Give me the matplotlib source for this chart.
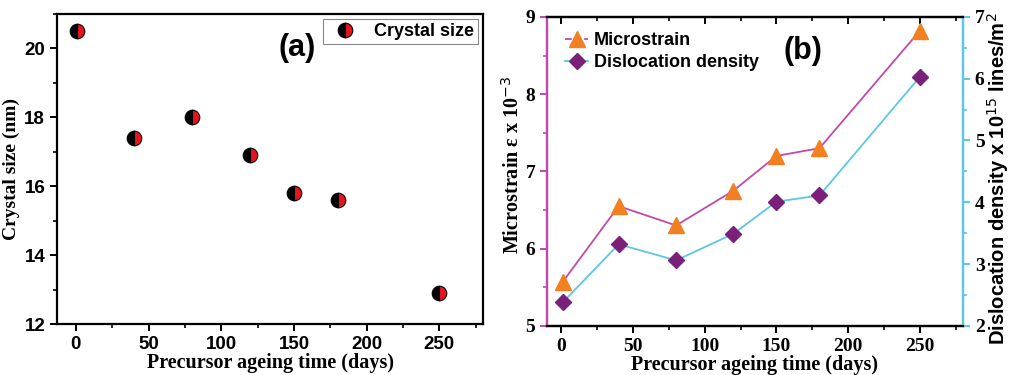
import matplotlib
matplotlib.use("Agg")
import matplotlib.pyplot as plt
from matplotlib.ticker import MultipleLocator
from matplotlib.lines import Line2D

days = [1, 40, 80, 120, 150, 180, 250]
crystal_size = [20.5, 17.4, 18.0, 16.9, 15.8, 15.6, 12.9]
microstrain = [5.57, 6.55, 6.30, 6.75, 7.20, 7.30, 8.82]
dislocation = [2.38, 3.32, 3.06, 3.49, 4.01, 4.11, 6.03]

SANS = "Liberation Sans"
SERIF = "Liberation Serif"
MAG = "#c04aa8"
CYAN = "#5cc8e0"
ORANGE = "#f28020"
PURPLE = "#7a1f7a"

fig = plt.figure(figsize=(10.12, 3.75), dpi=100)

# ---------- panel (a) ----------
ax1 = fig.add_axes([0.0563, 0.136, 0.421, 0.827])
ax1.plot(days, crystal_size, linestyle="none", marker="o", markersize=10.5,
         fillstyle="left", markerfacecolor="black", markerfacecoloralt="#e8141c",
         markeredgecolor="black", markeredgewidth=0.8, label="Crystal size")
ax1.set_xlim(-13, 280)
ax1.set_ylim(12, 21)
ax1.xaxis.set_major_locator(MultipleLocator(50))
ax1.xaxis.set_minor_locator(MultipleLocator(25))
ax1.yaxis.set_major_locator(MultipleLocator(2))
ax1.yaxis.set_minor_locator(MultipleLocator(1))
for s in ax1.spines.values():
    s.set_linewidth(1.6)
ax1.tick_params(which="major", direction="out", length=5, width=1.4, top=False, right=False)
ax1.tick_params(which="minor", direction="out", length=3, width=1.2, top=False, right=False)
for lab in ax1.get_xticklabels() + ax1.get_yticklabels():
    lab.set_fontfamily(SANS); lab.set_fontweight("bold"); lab.set_fontsize(13.5)
ax1.set_xlabel("Precursor ageing time (days)", fontfamily=SERIF, fontweight="bold",
               fontsize=14.5, labelpad=0)
ax1.set_ylabel("Crystal size (nm)", fontfamily=SERIF, fontweight="bold",
               fontsize=14, labelpad=3)
ax1.text(0.563, 0.89, "(a)", transform=ax1.transAxes, fontfamily=SANS,
         fontweight="bold", fontsize=22, ha="center", va="center")
leg = ax1.legend(loc="upper right", prop={"family": SANS, "weight": "bold", "size": 13},
                 fancybox=False, edgecolor="#888888", framealpha=1,
                 borderaxespad=0.3, handletextpad=0.6, borderpad=0.2)
leg.get_frame().set_linewidth(0.8)

# ---------- panel (b) ----------
ax2 = fig.add_axes([0.5405, 0.131, 0.411, 0.824])
ax3 = ax2.twinx()
l1, = ax2.plot(days, microstrain, color=MAG, linewidth=1.3, marker="^", markersize=11,
               markerfacecolor=ORANGE, markeredgecolor=ORANGE, label="Microstrain")
l2, = ax3.plot(days, dislocation, color=CYAN, linewidth=1.3, marker="D", markersize=8,
               markerfacecolor=PURPLE, markeredgecolor=PURPLE, label="Dislocation density")
ax2.set_xlim(-10, 280)
ax2.set_ylim(5, 9)
ax3.set_ylim(2, 7)
ax2.xaxis.set_major_locator(MultipleLocator(50))
ax2.xaxis.set_minor_locator(MultipleLocator(25))
ax2.yaxis.set_major_locator(MultipleLocator(1))
ax2.yaxis.set_minor_locator(MultipleLocator(0.5))
ax3.yaxis.set_major_locator(MultipleLocator(1))
ax3.yaxis.set_minor_locator(MultipleLocator(0.5))
for s in ax2.spines.values():
    s.set_linewidth(1.6)
for s in ax3.spines.values():
    s.set_linewidth(1.6)
ax3.spines["left"].set_color(MAG)
ax3.spines["right"].set_color(CYAN)
ax2.spines["left"].set_color(MAG)
ax2.spines["right"].set_color(CYAN)
ax2.tick_params(axis="x", which="major", direction="out", length=5, width=1.4,
                top=True, labeltop=False)
ax2.tick_params(axis="x", which="minor", direction="out", length=3, width=1.2, top=True)
ax2.tick_params(axis="y", which="major", direction="out", length=5, width=1.4, color=MAG)
ax2.tick_params(axis="y", which="minor", direction="out", length=3, width=1.2, color=MAG)
ax3.tick_params(axis="y", which="major", direction="out", length=5, width=1.4, color=CYAN)
ax3.tick_params(axis="y", which="minor", direction="out", length=3, width=1.2, color=CYAN)
for t in ax2.xaxis.get_major_ticks() + ax2.xaxis.get_minor_ticks():
    t.tick2line.set_marker(3)  # inward at top
for lab in ax2.get_xticklabels() + ax2.get_yticklabels() + ax3.get_yticklabels():
    lab.set_fontfamily(SERIF); lab.set_fontweight("bold"); lab.set_fontsize(14)
ax2.set_xlabel("Precursor ageing time (days)", fontfamily=SERIF, fontweight="bold",
               fontsize=14.5, labelpad=0)
ax2.set_ylabel("Microstrain ε x 10$^{-3}$", fontfamily=SERIF, fontweight="bold",
               fontsize=14.5, labelpad=2)
ax2.yaxis.set_label_coords(-0.056, 0.52)
ax3.set_ylabel("Dislocation density x 10$^{15}$ lines/m$^2$", fontfamily=SANS,
               fontweight="bold", fontsize=14.5, labelpad=4)
ax3.yaxis.set_label_coords(1.053, 0.475)
ax2.text(0.615, 0.89, "(b)", transform=ax2.transAxes, fontfamily=SANS,
         fontweight="bold", fontsize=22, ha="center", va="center")
h1 = Line2D([], [], color=MAG, linestyle="--", linewidth=1.3, marker="^", markersize=11,
            markerfacecolor=ORANGE, markeredgecolor=ORANGE)
h2 = Line2D([], [], color=CYAN, linewidth=1.3, marker="D", markersize=8,
            markerfacecolor=PURPLE, markeredgecolor=PURPLE)
ax2.legend([h1, h2], ["Microstrain", "Dislocation density"], loc="upper left",
           prop={"family": SANS, "weight": "bold", "size": 13}, frameon=False,
           handlelength=1.3, handletextpad=0.3, labelspacing=0.25,
           borderaxespad=0.0, borderpad=0.0, bbox_to_anchor=(0.043, 0.95))

fig.savefig("out.png", dpi=100)
